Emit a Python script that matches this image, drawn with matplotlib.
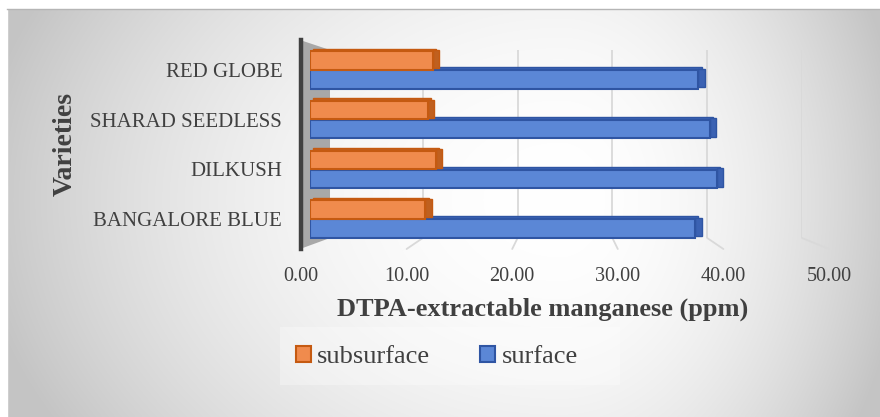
import numpy as np
import matplotlib
matplotlib.use("Agg")
import matplotlib.pyplot as plt
from matplotlib.patches import Rectangle, Polygon, ConnectionPatch

plt.rcParams['font.family'] = ['Liberation Serif', 'DejaVu Serif']

# data (bottom -> top, Excel order)
varieties = ['BANGALORE BLUE', 'DILKUSH', 'SHARAD SEEDLESS', 'RED GLOBE']
subsurface = [11.3, 12.3, 11.5, 12.0]
surface = [37.7, 39.8, 39.1, 38.0]
ticks = [0, 10, 20, 30, 40, 50]
tick_labels = ['%.2f' % t for t in ticks]

W, H = 880, 417
TXT = '#404040'
OR_F, OR_E, OR_S = '#f08b4d', '#c55a11', '#c0601f'
BL_F, BL_E, BL_S = '#5b87d6', '#2f55a3', '#3b62b3'


def box(x0, y0, x1, y1):
    # pixel box (top-left origin) -> figure fraction rect
    return [x0 / W, 1 - y1 / H, (x1 - x0) / W, (y1 - y0) / H]


fig = plt.figure(figsize=(W / 100, H / 100), dpi=100)

# background with radial-ish gradient
bg = fig.add_axes([0, 0, 1, 1], zorder=-10)
bg.set_xlim(0, W)
bg.set_ylim(H, 0)
bg.axis('off')
xx, yy = np.meshgrid(np.arange(W) + 0.5, np.arange(H) + 0.5)
cx, cy = 560, 200
dx = np.where(xx < cx, (xx - cx) / 560, (xx - cx) / 330)
dy = (yy - cy) / 420
g = np.clip(1 - 0.21 * (dx ** 2 + dy ** 2), 0.77, 1.0)
bg.imshow(np.dstack([g, g, g]), extent=(0, W, H, 0), aspect='auto', zorder=0)
bg.add_patch(Rectangle((0, 0), W, 8, color='white', zorder=1))
bg.add_patch(Rectangle((0, 0), 7, H, color='white', zorder=1))
bg.plot([7, W], [8.5, 8.5], color='#b5b5b5', lw=1, zorder=2)
# legend backdrop
bg.add_patch(Rectangle((280, 327), 340, 58, color='white', alpha=0.3, lw=0, zorder=2))
# side wall
bg.add_patch(Polygon([(300, 40), (330, 50), (330, 238), (300, 249)], closed=True,
                     facecolor='#a8a8a8', edgecolor='none', zorder=2))

# back wall gridlines
back = fig.add_axes(box(328, 50, 802, 238), zorder=-5)
back.set_xlim(0, 50)
back.set_ylim(0, 1)
back.patch.set_visible(False)
for s in back.spines.values():
    s.set_visible(False)
back.set_xticks(ticks[1:])
back.set_yticks([])
back.tick_params(length=0, labelbottom=False)
back.grid(axis='x', color='#d9d9d9', lw=1.3)

# front axis (tick labels + dark axis line)
front = fig.add_axes(box(301, 40, 829, 249), zorder=-4)
front.set_xlim(0, 50)
front.set_ylim(0, 1)
front.patch.set_visible(False)
for k in ['top', 'right', 'bottom']:
    front.spines[k].set_visible(False)
front.spines['left'].set_color('#404040')
front.spines['left'].set_linewidth(3.2)
front.set_yticks([])
front.set_xticks(ticks)
front.set_xticklabels(tick_labels, fontsize=14.5, color=TXT)
front.tick_params(axis='x', length=0, pad=13)

# floor gridlines linking back wall to front
for t in ticks[1:]:
    cp = ConnectionPatch(xyA=(t, 0), coordsA=back.transData,
                         xyB=(t, 0), coordsB=front.transData,
                         color='#d9d9d9', lw=1.3)
    fig.add_artist(cp)

# bars
ax = fig.add_axes(box(310, 40, 821, 249), zorder=5)
ax.set_xlim(0, 50)
ax.set_ylim(-0.604, 3.604)
ax.patch.set_visible(False)
for s in ax.spines.values():
    s.set_visible(False)

y = np.arange(len(varieties))
h = 0.372
off = 0.19
ddx, ddy = 0.62, 0.055

# surface sits lower in each group, subsurface above it
ax.barh(y - off + ddy, surface, height=h, left=ddx * 0.5, color=BL_S, edgecolor=BL_E, lw=1.0, zorder=1)
bl = ax.barh(y - off, surface, height=h, color=BL_F, edgecolor=BL_E, lw=1.5, zorder=2)
ax.barh(y + off + ddy, subsurface, height=h, left=ddx * 0.5, color=OR_S, edgecolor=OR_E, lw=1.0, zorder=3)
orb = ax.barh(y + off, subsurface, height=h, color=OR_F, edgecolor=OR_E, lw=1.5, zorder=4)
# right-hand side faces
ax.barh(y - off + ddy / 2, [ddx] * len(y), height=h, left=surface, color=BL_S, edgecolor=BL_E, lw=1.0, zorder=1.5)
ax.barh(y + off + ddy / 2, [ddx] * len(y), height=h, left=subsurface, color=OR_S, edgecolor=OR_E, lw=1.0, zorder=3.5)
ax.set_yticks(y)
ax.set_yticklabels(varieties, fontsize=15, color=TXT)
ax.tick_params(axis='y', length=0, pad=20)
ax.set_xticks([])

fig.text(543 / W, 1 - 309 / H, 'DTPA-extractable manganese (ppm)', ha='center', va='center',
         fontsize=19, fontweight='bold', color=TXT)
fig.text(65 / W, 1 - 144 / H, 'Varieties', ha='center', va='center', rotation=90,
         fontsize=20, fontweight='bold', color=TXT)

ax.legend([orb, bl], ['subsurface', 'surface'], ncol=2, loc='center left',
          bbox_to_anchor=(296 / W, 1 - 357 / H), bbox_transform=fig.transFigure,
          frameon=False, fontsize=19, handlelength=0.55, handleheight=0.6,
          handletextpad=0.25, columnspacing=1.9, borderpad=0, borderaxespad=0,
          labelcolor=TXT)

fig.savefig('out.png', dpi=100)
